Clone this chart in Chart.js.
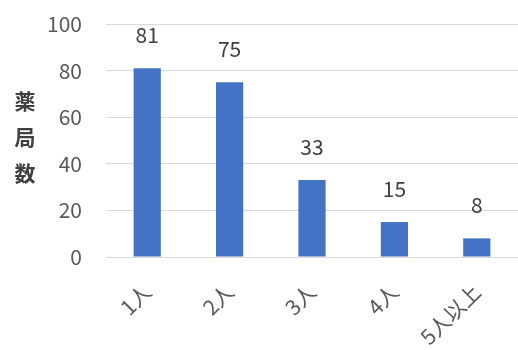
<!DOCTYPE html>
<html>
<head>
<meta charset="utf-8">
<script src="https://cdn.jsdelivr.net/npm/chart.js@4/dist/chart.umd.min.js"></script>
<style>
    html, body { margin: 0; padding: 0; background: #fff; }
    #wrap { width: 518px; height: 350px; }
</style>
</head>
<body>
<div id="wrap"><canvas id="chart"></canvas></div>
<script>
"use strict";

const categories = ["1人", "2人", "3人", "4人", "5人以上"];
const pharmacyCounts = [81, 75, 33, 15, 8];
const yTitleChars = ["薬", "局", "数"];

const kFont = "'Noto Sans CJK JP', 'Noto Sans', sans-serif";

// value labels above each bar
const valueLabels = {
    id: "valueLabels",
    afterDatasetsDraw(chart) {
        const { ctx } = chart;
        const meta = chart.getDatasetMeta(0);
        ctx.save();
        ctx.font = `21px ${kFont}`;
        ctx.fillStyle = "#404040";
        ctx.textAlign = "center";
        ctx.textBaseline = "alphabetic";
        meta.data.forEach((bar, i) => {
            ctx.fillText(String(pharmacyCounts[i]), bar.x, bar.y - 25);
        });
        ctx.restore();
    }
};

// stacked vertical axis title
const stackedTitle = {
    id: "stackedTitle",
    afterDraw(chart) {
        const { ctx } = chart;
        ctx.save();
        ctx.font = `bold 21px ${kFont}`;
        ctx.fillStyle = "#404040";
        ctx.textAlign = "center";
        ctx.textBaseline = "middle";
        yTitleChars.forEach((ch, i) => {
            ctx.fillText(ch, 25, 101 + i * 36);
        });
        ctx.restore();
    }
};

document.addEventListener("DOMContentLoaded", () => {
    new Chart(document.getElementById("chart").getContext("2d"), {
        type: "bar",
        data: {
            labels: categories,
            datasets: [{
                data: pharmacyCounts,
                backgroundColor: "#4472C4",
                borderWidth: 0,
                barPercentage: 0.33,
                categoryPercentage: 1
            }]
        },
        options: {
            responsive: true,
            maintainAspectRatio: false,
            animation: false,
            layout: { padding: { top: 24, right: 0, bottom: 0, left: 0 } },
            plugins: {
                legend: { display: false },
                tooltip: { enabled: false }
            },
            scales: {
                x: {
                    grid: { display: false },
                    border: { display: false },
                    ticks: {
                        color: "#595959",
                        font: { family: kFont, size: 21 },
                        minRotation: 45,
                        maxRotation: 45,
                        padding: 14
                    },
                    afterFit(scale) {
                        scale.height = 93;
                    }
                },
                y: {
                    min: 0,
                    max: 100,
                    grid: { color: "#d9d9d9", drawTicks: false, lineWidth: 1 },
                    border: { display: false },
                    ticks: {
                        stepSize: 20,
                        color: "#595959",
                        font: { family: kFont, size: 21 },
                        padding: 24
                    },
                    afterFit(scale) {
                        scale.width = 106;
                        scale.paddingTop = 0;
                        scale.paddingBottom = 0;
                    }
                }
            }
        },
        plugins: [valueLabels, stackedTitle]
    });
});
</script>
</body>
</html>
